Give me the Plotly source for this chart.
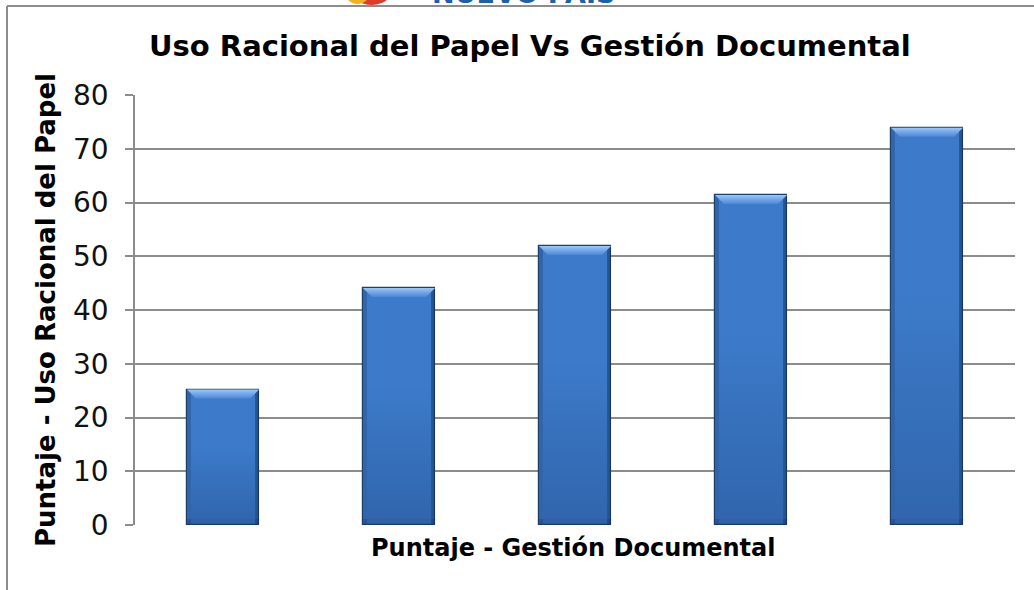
import plotly.graph_objects as go

# Chart data
categories = ["1", "2", "3", "4", "5"]
puntaje_papel = [25.2, 44.1, 51.9, 61.4, 73.9]
y_ticks = [0, 10, 20, 30, 40, 50, 60, 70, 80]

title_text = "Uso Racional del Papel Vs Gestión Documental"
x_title = "Puntaje - Gestión Documental"
y_title = "Puntaje - Uso Racional del Papel"

W, H = 1034, 590
L, R, T, B = 135, 19, 95, 65
plot_w, plot_h = W - L - R, H - T - B
x_range = [-0.5, len(categories) - 0.5]
y_range = [0, 80]
px_per_x = plot_w / (x_range[1] - x_range[0])
px_per_y = plot_h / (y_range[1] - y_range[0])

bar_w = 0.41
xs = list(range(len(categories)))

fig = go.Figure()

# Main bars
fig.add_trace(go.Bar(
    x=xs, y=puntaje_papel, width=bar_w,
    marker=dict(color="#3d7bca", line=dict(color="#1d3f6e", width=1.2)),
    hoverinfo="y", showlegend=False,
))

# Bevel decoration on each bar (derived from the bar values)
bev_x = 9 / px_per_x
bev_y = 9 / px_per_y
edge_x = 4 / px_per_x
bot_y = 6 / px_per_y
for xi, v in zip(xs, puntaje_papel):
    x0, x1 = xi - bar_w / 2, xi + bar_w / 2
    # side shading
    for sx0, sx1, col in [(x0, x0 + edge_x, "rgba(30,60,110,0.35)"),
                          (x1 - edge_x, x1, "rgba(20,45,90,0.5)")]:
        fig.add_trace(go.Scatter(
            x=[sx0, sx1, sx1, sx0, sx0], y=[0, 0, v, v, 0],
            fill="toself", fillcolor=col, line=dict(width=0),
            mode="lines", hoverinfo="skip", showlegend=False))
    # darker band near the base
    fig.add_trace(go.Scatter(
        x=[x0, x1, x1, x0, x0], y=[0, 0, bot_y, bot_y, 0],
        fill="toself", fillcolor="rgba(25,55,100,0.35)", line=dict(width=0),
        mode="lines", hoverinfo="skip", showlegend=False))
    # lower body shading toward the base
    fig.add_trace(go.Scatter(
        x=[x0 + edge_x, x1 - edge_x, x1 - edge_x, x0 + edge_x, x0 + edge_x],
        y=[bot_y, bot_y, v * 0.6, v * 0.6, bot_y],
        fill="toself",
        fillgradient=dict(type="vertical",
                          colorscale=[[0, "rgba(30,70,130,0.4)"], [1, "rgba(30,70,130,0)"]]),
        line=dict(width=0), mode="lines", hoverinfo="skip", showlegend=False))
    # top bevel
    fig.add_trace(go.Scatter(
        x=[x0, x1, x1 - bev_x, x0 + bev_x, x0],
        y=[v, v, v - bev_y, v - bev_y, v],
        fill="toself",
        fillgradient=dict(type="vertical",
                          colorscale=[[0, "#4d88d6"], [0.6, "#78acec"], [1, "#9cc8f6"]]),
        line=dict(width=0), mode="lines", hoverinfo="skip", showlegend=False))

fig.update_layout(
    width=W, height=H,
    margin=dict(l=L, r=R, t=T, b=B),
    paper_bgcolor="white", plot_bgcolor="white",
    bargap=0,
    font=dict(family="DejaVu Sans", color="#000000"),
    xaxis=dict(range=x_range, showticklabels=False, showgrid=False,
               zeroline=False, ticks="", showline=False, fixedrange=True),
    yaxis=dict(range=y_range, tickvals=y_ticks, showgrid=True,
               gridcolor="#8c8c8c", gridwidth=1.5, zeroline=False,
               showline=True, linecolor="#8c8c8c", linewidth=1.5,
               ticks="outside", ticklen=8, tickcolor="#8c8c8c", tickwidth=1.5,
               ticklabelstandoff=11,
               tickfont=dict(family="DejaVu Sans", size=28, color="#111111")),
)

def px_x(p):
    return (p - L) / plot_w

def px_y(p):
    return (H - B - p) / plot_h

annotations = [
    dict(text=title_text, x=px_x(530), y=px_y(46), xref="paper", yref="paper",
         xanchor="center", yanchor="middle", showarrow=False,
         font=dict(family="DejaVu Sans", size=29, color="#000000", weight="bold")),
    dict(text=x_title, x=px_x(573), y=px_y(548), xref="paper", yref="paper",
         xanchor="center", yanchor="middle", showarrow=False,
         font=dict(family="DejaVu Sans", size=24, color="#000000", weight="bold")),
    dict(text=y_title, x=px_x(46), y=px_y(310), xref="paper", yref="paper",
         xanchor="center", yanchor="middle", showarrow=False, textangle=-90,
         font=dict(family="DejaVu Sans", size=26, color="#000000", weight="bold")),
    # header logo lettering, cut by the page top
    dict(text="NUEVO PAIS", x=px_x(430), y=px_y(11), xref="paper", yref="paper",
         xanchor="left", yanchor="bottom", showarrow=False,
         font=dict(family="DejaVu Sans", size=27, color="#1c5fae", weight="bold")),
]
fig.update_layout(annotations=annotations)

shapes = [
    # logo emblem
    dict(type="circle", xref="paper", yref="paper",
         x0=px_x(345), x1=px_x(398), y0=px_y(5), y1=px_y(-48),
         fillcolor="#e03a2a", line=dict(width=0), layer="above"),
    dict(type="circle", xref="paper", yref="paper",
         x0=px_x(343), x1=px_x(372), y0=px_y(4), y1=px_y(-30),
         fillcolor="#f3b120", line=dict(width=0), layer="above"),
    # outer frame
    dict(type="line", xref="paper", yref="paper",
         x0=px_x(7), x1=px_x(W + 5), y0=px_y(6), y1=px_y(6),
         line=dict(color="#8c8c8c", width=2), layer="above"),
    dict(type="line", xref="paper", yref="paper",
         x0=px_x(7), x1=px_x(7), y0=px_y(6), y1=px_y(H + 5),
         line=dict(color="#8c8c8c", width=2), layer="above"),
]
fig.update_layout(shapes=shapes)

fig.write_html("out.html")
